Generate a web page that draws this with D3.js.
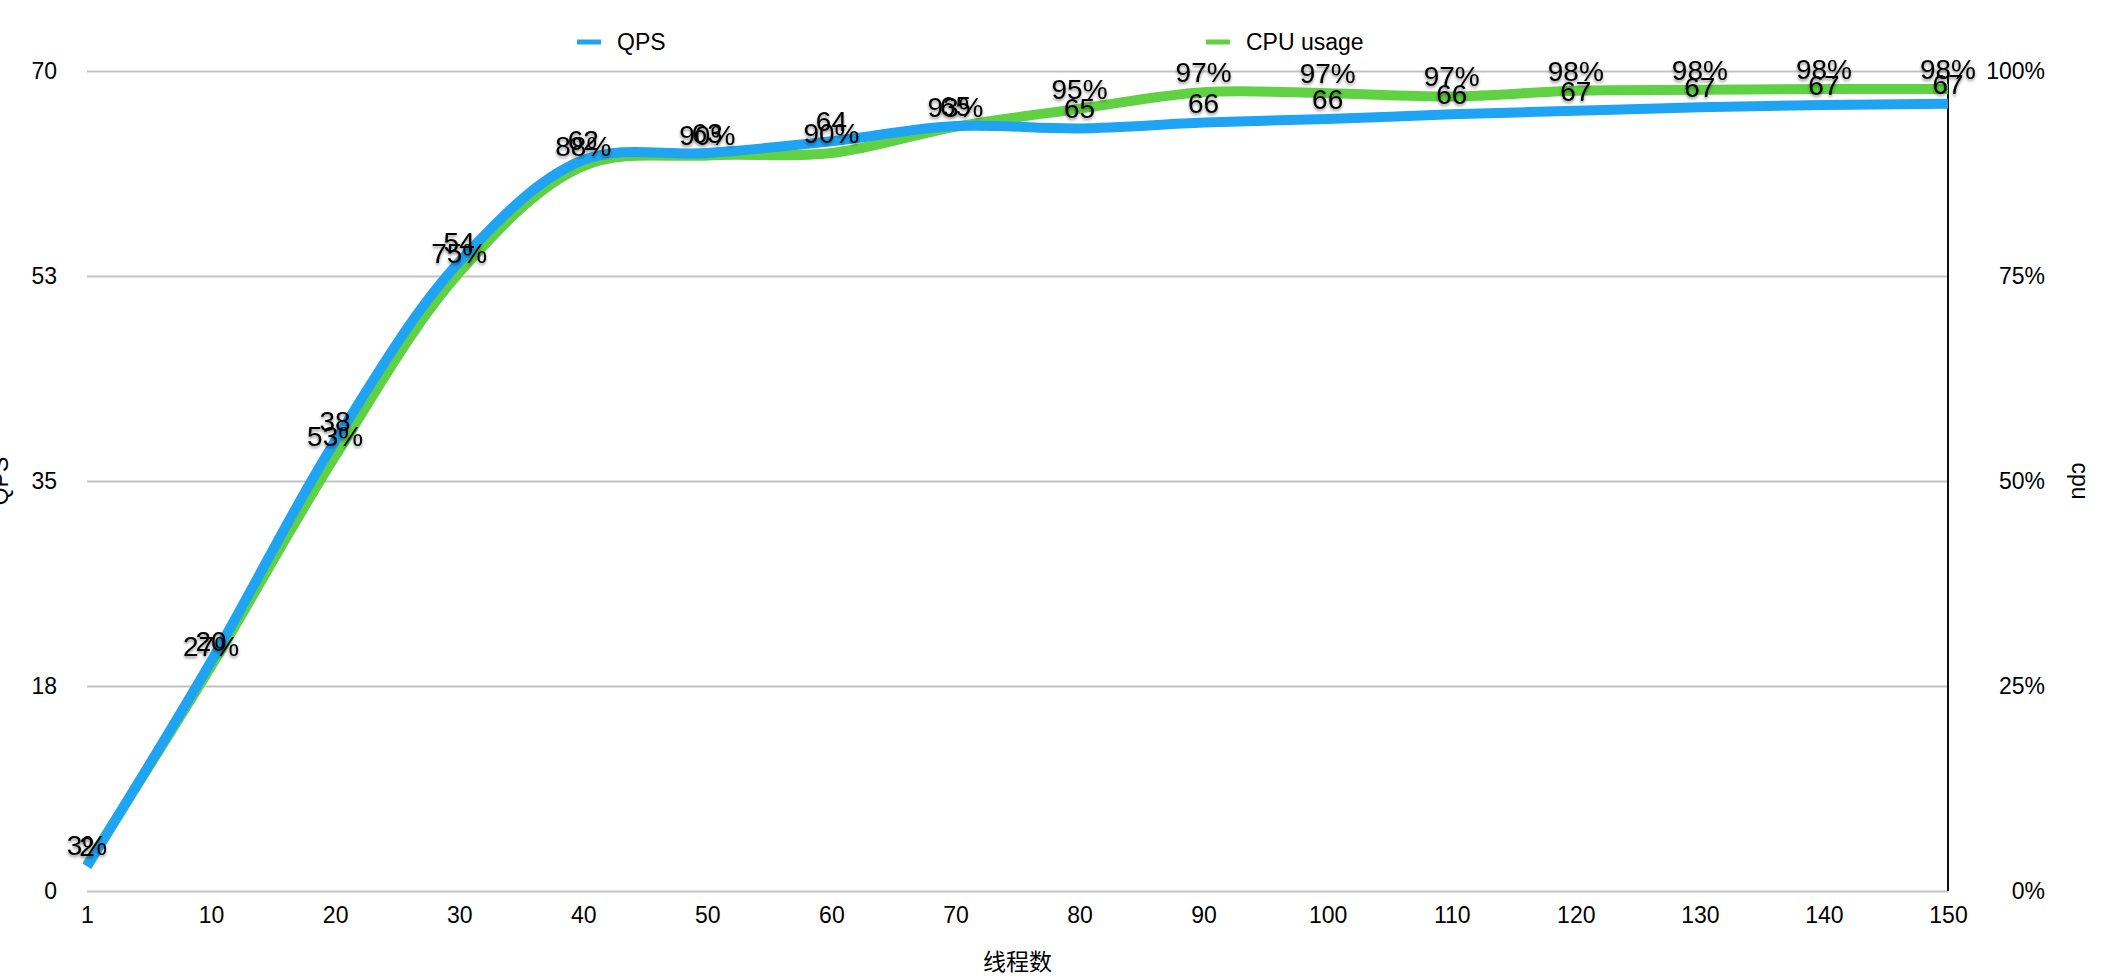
<!DOCTYPE html>
<html>
<head>
<meta charset="utf-8">
<script src="https://cdn.jsdelivr.net/npm/d3@7"></script>
<style>
  html, body { margin: 0; padding: 0; background: #fff; }
  svg { display: block; font-family: "Liberation Sans", Arial, Helvetica, sans-serif; }
  .tick text { fill: #000; font-size: 23px; }
</style>
</head>
<body>
<div id="chart"></div>
<script>
// ── 数据 ────────────────────────────────────────────────────────────────
const threads  = [1, 10, 20, 30, 40, 50, 60, 70, 80, 90, 100, 110, 120, 130, 140, 150];
const qps      = [2.1, 19.6, 38.4, 53.7, 62.4, 63.0, 64.0, 65.3, 65.1, 65.6, 65.9, 66.3, 66.6, 66.9, 67.1, 67.2];
const cpu      = [0.032, 0.274, 0.53, 0.754, 0.884, 0.897, 0.90, 0.932, 0.954, 0.974, 0.973, 0.969, 0.976, 0.977, 0.978, 0.978];
const qpsTicks = [0, 17.5, 35, 52.5, 70];
const cpuTicks = [0, 0.25, 0.5, 0.75, 1];
const seriesNames = ['QPS', 'CPU usage'];

const W = 2126, H = 978;
const m = { left: 87, right: 2126 - 1948, top: 71, bottom: 978 - 891 };
const plotW = W - m.left - m.right;
const plotH = H - m.top - m.bottom;

const BLUE  = '#1fa4f3';
const GREEN = '#5fd142';

const svg = d3.select('#chart').append('svg')
    .attr('width', W).attr('height', H);

// 标签阴影
const defs = svg.append('defs');
defs.append('filter').attr('id', 'shadow')
    .attr('x', '-20%').attr('y', '-30%').attr('width', '140%').attr('height', '170%')
  .append('feDropShadow')
    .attr('dx', 0).attr('dy', 2).attr('stdDeviation', 1.6)
    .attr('flood-color', '#000').attr('flood-opacity', 0.45);

const g = svg.append('g').attr('transform', `translate(${m.left},${m.top})`);

// ── 比例尺 ──────────────────────────────────────────────────────────────
const x  = d3.scalePoint().domain(threads).range([0, plotW]);
const yL = d3.scaleLinear().domain([0, 70]).range([plotH, 0]);
const yR = d3.scaleLinear().domain([0, 1]).range([plotH, 0]);

// ── 网格 + 左轴 ─────────────────────────────────────────────────────────
const leftAxis = g.append('g')
    .call(d3.axisLeft(yL).tickValues(qpsTicks).tickFormat(d3.format('.0f'))
        .tickSize(-plotW).tickPadding(30));
leftAxis.select('.domain').remove();
leftAxis.selectAll('.tick line').attr('stroke', '#c2c2c2').attr('stroke-width', 2);

// ── 右轴 ────────────────────────────────────────────────────────────────
const rightAxis = g.append('g').attr('transform', `translate(${plotW},0)`)
    .call(d3.axisRight(yR).tickValues(cpuTicks).tickFormat(d3.format('.0%')).tickSize(0));
rightAxis.select('.domain').remove();
rightAxis.selectAll('.tick text').attr('text-anchor', 'end').attr('x', 97);

g.append('line')
    .attr('x1', plotW).attr('x2', plotW)
    .attr('y1', 0).attr('y2', plotH)
    .attr('stroke', '#111').attr('stroke-width', 2);

// ── X 轴 ────────────────────────────────────────────────────────────────
const bottomAxis = g.append('g').attr('transform', `translate(0,${plotH})`)
    .call(d3.axisBottom(x).tickSize(0).tickPadding(16));
bottomAxis.select('.domain').remove();

// ── 轴标题 ──────────────────────────────────────────────────────────────
svg.append('text')
    .attr('transform', `translate(8,${m.top + plotH / 2}) rotate(-90)`)
    .attr('text-anchor', 'middle').style('font-size', '23px').text('QPS');

svg.append('text')
    .attr('transform', `translate(2072,${m.top + plotH / 2}) rotate(90)`)
    .attr('text-anchor', 'middle').style('font-size', '23px').text('cpu');

svg.append('text')
    .attr('x', m.left + plotW / 2).attr('y', 970)
    .attr('text-anchor', 'middle')
    .style('font-family', '"Noto Sans CJK SC", sans-serif')
    .style('font-size', '23px').text('线程数');

// ── 折线 ────────────────────────────────────────────────────────────────
const cpuLine = d3.line().x((d, i) => x(threads[i])).y(d => yR(d)).curve(d3.curveCatmullRom.alpha(0.5));
const qpsLine = d3.line().x((d, i) => x(threads[i])).y(d => yL(d)).curve(d3.curveCatmullRom.alpha(0.5));

g.append('path').datum(cpu)
    .attr('d', cpuLine).attr('fill', 'none')
    .attr('stroke', GREEN).attr('stroke-width', 10).attr('stroke-linecap', 'butt');

g.append('path').datum(qps)
    .attr('d', qpsLine).attr('fill', 'none')
    .attr('stroke', BLUE).attr('stroke-width', 10).attr('stroke-linecap', 'butt');

// ── 数值标签 ────────────────────────────────────────────────────────────
const labels = g.append('g')
    .attr('filter', 'url(#shadow)')
    .style('font-size', '28px')
    .attr('text-anchor', 'middle');

labels.selectAll('.cpu-lbl').data(cpu).enter().append('text')
    .attr('class', 'cpu-lbl')
    .attr('x', (d, i) => x(threads[i]))
    .attr('y', d => yR(d) - 10)
    .text(d => d3.format('.0%')(d));

labels.selectAll('.qps-lbl').data(qps).enter().append('text')
    .attr('class', 'qps-lbl')
    .attr('x', (d, i) => x(threads[i]))
    .attr('y', d => yL(d) - 10)
    .text(d => d3.format('.0f')(d));

// ── 图例 ────────────────────────────────────────────────────────────────
const legendX = [577, 1206];
const legend = svg.append('g').selectAll('g')
    .data(seriesNames).enter().append('g')
    .attr('transform', (d, i) => `translate(${legendX[i]},42)`);
legend.append('line')
    .attr('x1', 0).attr('x2', 24).attr('y1', 0).attr('y2', 0)
    .attr('stroke', (d, i) => i === 0 ? BLUE : GREEN).attr('stroke-width', 5);
legend.append('text')
    .attr('x', 40).attr('dy', '0.35em')
    .style('font-size', '23px')
    .text(d => d);
</script>
</body>
</html>
